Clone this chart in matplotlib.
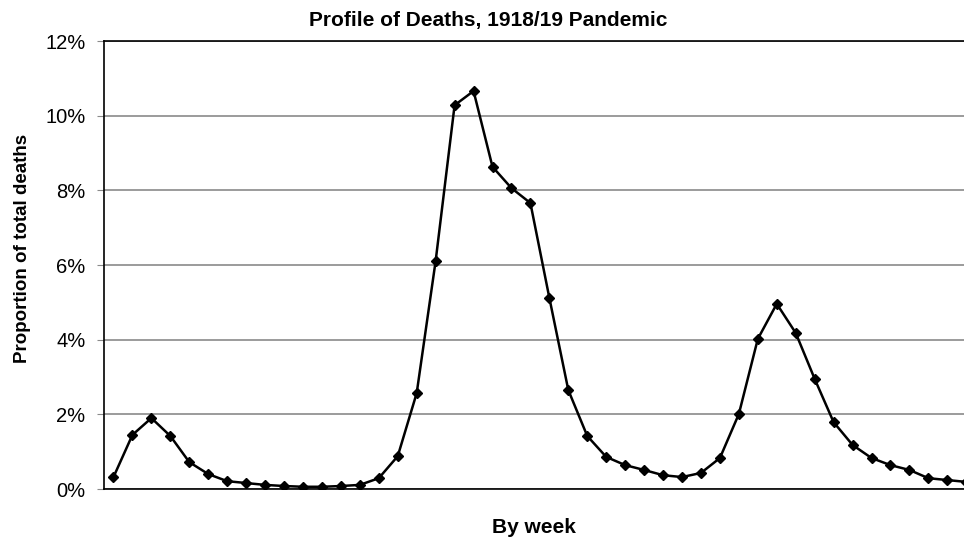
import numpy as np
import matplotlib
matplotlib.use("Agg")
import matplotlib.pyplot as plt
from matplotlib.ticker import FuncFormatter

# weekly share of total deaths (%)
weeks = np.arange(1, 47)
deaths_pct = [
    0.32, 1.45, 1.90, 1.42, 0.72, 0.40, 0.21, 0.16, 0.11, 0.08,
    0.06, 0.06, 0.08, 0.11, 0.29, 0.88, 2.57, 6.11, 10.28, 10.66,
    8.63, 8.06, 7.66, 5.12, 2.65, 1.42, 0.86, 0.64, 0.51, 0.37,
    0.32, 0.43, 0.83, 2.01, 4.02, 4.96, 4.18, 2.95, 1.79, 1.18,
    0.83, 0.64, 0.51, 0.29, 0.24, 0.19,
]
y_ticks = [0, 2, 4, 6, 8, 10, 12]

plt.rcParams["font.family"] = ["Liberation Sans", "DejaVu Sans"]

fig = plt.figure(figsize=(9.64, 5.41), dpi=100)
ax = fig.add_axes([0.1079, 0.0961, 0.8921, 0.8281])

ax.plot(weeks, deaths_pct, color="black", linewidth=1.8,
        marker="D", markersize=5.5, markerfacecolor="black",
        markeredgecolor="black")

ax.set_xlim(0.5, 45.88)
ax.set_ylim(0, 12)
ax.set_yticks(y_ticks)
ax.yaxis.set_major_formatter(FuncFormatter(lambda v, p: f"{v:.0f}%"))
ax.set_xticks([])

# gray gridlines
ax.grid(axis="y", color="#8a8a8a", linewidth=1.2)
ax.set_axisbelow(True)

for side in ["left", "top", "bottom"]:
    ax.spines[side].set_color("black")
    ax.spines[side].set_linewidth(1.2)
ax.spines["right"].set_visible(False)

ax.tick_params(axis="y", direction="out", length=5, color="#8a8a8a",
               labelsize=14.5, pad=8.5)

fig.text(0.506, 0.962, "Profile of Deaths, 1918/19 Pandemic", fontsize=15,
         fontweight="bold", ha="center", va="center")
fig.text(0.023, 0.54, "Proportion of total deaths", fontsize=13.5,
         fontweight="bold", rotation=90, ha="center", va="center")
ax.set_xlabel("By week", fontsize=15, fontweight="bold", labelpad=21)

fig.savefig("out.png", dpi=100)
